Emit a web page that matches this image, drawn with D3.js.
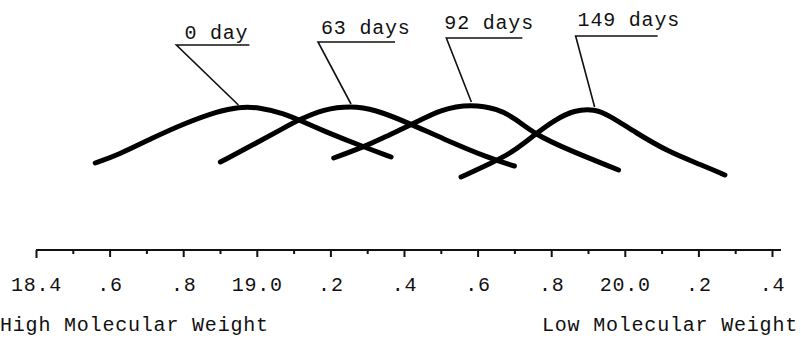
<html>
<script src="https://d3js.org/d3.v7.min.js"></script>
<style>
body {margin: 0; background: #fff;}
text {font-family: "Liberation Mono", "DejaVu Sans Mono", monospace; font-size: 20px; letter-spacing: 0.8px; fill: #111;}
.curve {fill: none; stroke: #000; stroke-width: 5; stroke-linecap: round; stroke-linejoin: round;}
.lead {fill: none; stroke: #111; stroke-width: 1.6;}
.axis path, .axis line {stroke: #111; stroke-width: 2;}
</style>
<body>
<svg width=801 height=343></svg>
<script>
// curves: x = elution position (axis units), y = relative detector response
var day0x   = [18.561, 18.623, 18.716, 18.806, 18.896, 18.950, 19.005, 19.078, 19.114, 19.182, 19.291, 19.365];
var day0y   = [0.37, 0.45, 0.62, 0.77, 0.89, 0.93, 0.93, 0.86, 0.80, 0.69, 0.53, 0.43];
var day63x  = [18.901, 18.989, 19.078, 19.114, 19.182, 19.256, 19.318, 19.419, 19.501, 19.637, 19.700];
var day63y  = [0.38, 0.55, 0.73, 0.80, 0.91, 0.94, 0.91, 0.76, 0.62, 0.41, 0.34];
var day92x  = [19.209, 19.291, 19.365, 19.419, 19.501, 19.583, 19.656, 19.700, 19.754, 19.847, 19.983];
var day92y  = [0.42, 0.53, 0.66, 0.75, 0.91, 0.96, 0.91, 0.82, 0.66, 0.50, 0.30];
var day149x = [19.555, 19.637, 19.692, 19.754, 19.809, 19.863, 19.918, 19.956, 20.027, 20.119, 20.209, 20.272];
var day149y = [0.23, 0.37, 0.47, 0.65, 0.80, 0.90, 0.91, 0.85, 0.68, 0.48, 0.35, 0.25];

var seriesNames = ["0 day", "63 days", "92 days", "149 days"];
var majorTicks = [18.4, 18.6, 18.8, 19.0, 19.2, 19.4, 19.6, 19.8, 20.0, 20.2, 20.4];
var tickLabels = ["18.4", ".6", ".8", "19.0", ".2", ".4", ".6", ".8", "20.0", ".2", ".4"];
var minorTicks = [18.5, 18.7, 18.9, 19.1, 19.3, 19.5, 19.7, 19.9, 20.1, 20.3];

// label placement relative to each peak (px)
var labelLayout = [
  {dx: -62, dy: -60, len: 73, tx: 8,  ty: -6},
  {dx: -33, dy: -62, len: 77, tx: 3,  ty: -8},
  {dx: -25, dy: -64, len: 76, tx: -2, ty: -9},
  {dx: -19, dy: -71, len: 82, tx: 2,  ty: -10}
];

var svg = d3.select("svg");
var xs = d3.scaleLinear().domain([18.4, 20.4]).range([36, 772]);
var ys = d3.scaleLinear().domain([0, 1]).range([200, 100]);

var series = [[day0x, day0y], [day63x, day63y], [day92x, day92y], [day149x, day149y]].map(function(s, i) {
  return {name: seriesNames[i], pts: s[0].map(function(x, j) { return {x: x, y: s[1][j]}; })};
});

var line = d3.line()
  .x(function(d) { return xs(d.x); })
  .y(function(d) { return ys(d.y); })
  .curve(d3.curveBasis);

svg.append("g").selectAll("path")
  .data(series)
  .enter()
  .append("path")
  .attr("class", "curve")
  .attr("d", function(d) { return line(d.pts); });

// labels with leader lines to the peaks
series.forEach(function(s, i) {
  var pk = s.pts.reduce(function(a, b) { return b.y > a.y ? b : a; });
  var px = xs(pk.x), py = ys(pk.y) - 2;
  var L = labelLayout[i];
  var ux = px + L.dx, uy = py + L.dy;
  svg.append("path").attr("class", "lead")
    .attr("d", "M" + px + "," + py + "L" + ux + "," + uy + "L" + (ux + L.len) + "," + uy);
  svg.append("text").attr("x", ux + L.tx).attr("y", uy + L.ty).text(s.name);
});

// axis
var axY = 250;
var gMinor = svg.append("g").attr("class", "axis").attr("transform", "translate(0," + axY + ")")
  .call(d3.axisBottom(xs).tickValues(minorTicks).tickSize(4).tickSizeOuter(0).tickFormat(""));
gMinor.select(".domain").attr("d", "M" + xs(18.4) + ",0H781");

var gMajor = svg.append("g").attr("class", "axis").attr("transform", "translate(0," + axY + ")")
  .call(d3.axisBottom(xs).tickValues(majorTicks).tickSize(7).tickSizeOuter(0)
    .tickFormat(function(d, i) { return tickLabels[i]; }));
gMajor.select(".domain").remove();
gMajor.selectAll(".tick text")
  .attr("y", 41).attr("dy", null)
  .style("font-family", "Liberation Mono, monospace").style("font-size", "20px").attr("fill", "#111");
gMajor.select(".tick line").attr("y2", 8);

svg.append("text").attr("x", 0).attr("y", 331).text("High Molecular Weight");
svg.append("text").attr("x", 798).attr("y", 331).style("text-anchor", "end").text("Low Molecular Weight");
</script>
</body>
</html>
